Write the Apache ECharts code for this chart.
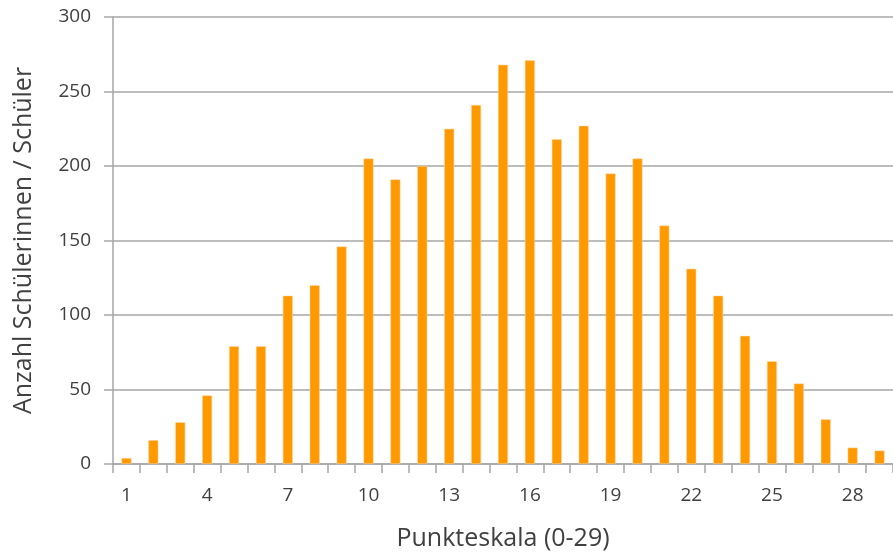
<!DOCTYPE html>
<html>
<head>
<meta charset="utf-8">
<script src="https://cdn.jsdelivr.net/npm/echarts@6/dist/echarts.min.js"></script>
<style>
  html, body { margin: 0; padding: 0; background: #fff; }
  #chart { width: 893px; height: 558px; }
</style>
</head>
<body>
<div id="chart"></div>
<script>
// Punkte 1..29
const punkte = [1, 2, 3, 4, 5, 6, 7, 8, 9, 10, 11, 12, 13, 14, 15, 16, 17, 18, 19, 20, 21, 22, 23, 24, 25, 26, 27, 28, 29]
const anzahl = [4, 16, 28, 46, 79, 79, 113, 120, 146, 205, 191, 200, 225, 241, 268, 271, 218, 227, 195, 205, 160, 131, 113, 86, 69, 54, 30, 11, 9]
const yTicks = { min: 0, max: 300, interval: 50 }

const chart = echarts.init(document.getElementById('chart'))
const textColor = '#404040'
const font = '"Open Sans", sans-serif'

chart.setOption({
    animation: false,
    grid: { left: 113, right: 0, top: 17, bottom: 94, containLabel: false },
    xAxis: {
        type: 'category',
        data: punkte,
        name: 'Punkteskala (0-29)',
        nameLocation: 'middle',
        nameGap: 62,
        nameTextStyle: { color: textColor, fontSize: 25, fontFamily: font },
        axisLine: { lineStyle: { color: '#a6a6a6', width: 1.5 } },
        axisTick: { show: true, length: 9, interval: 0, lineStyle: { color: '#a6a6a6', width: 1.5 } },
        axisLabel: { interval: 2, color: textColor, fontSize: 19, fontFamily: font, margin: 22 }
    },
    yAxis: {
        type: 'value',
        min: yTicks.min,
        max: yTicks.max,
        interval: yTicks.interval,
        name: 'Anzahl Schülerinnen / Schüler',
        nameLocation: 'middle',
        nameGap: 77,
        nameTextStyle: { color: textColor, fontSize: 25, fontFamily: font },
        axisLine: { show: true, lineStyle: { color: '#a6a6a6', width: 1.5 } },
        axisTick: { show: true, length: 9, lineStyle: { color: '#a6a6a6', width: 1.5 } },
        axisLabel: { color: textColor, fontSize: 19, fontFamily: font, margin: 22 },
        splitLine: { lineStyle: { color: '#a6a6a6', width: 1.5 } }
    },
    series: [{
        type: 'bar',
        data: anzahl,
        barWidth: '37%',
        itemStyle: { color: '#ff9900', borderColor: '#ffd9a8', borderWidth: 0.5 }
    }]
})
</script>
</body>
</html>
